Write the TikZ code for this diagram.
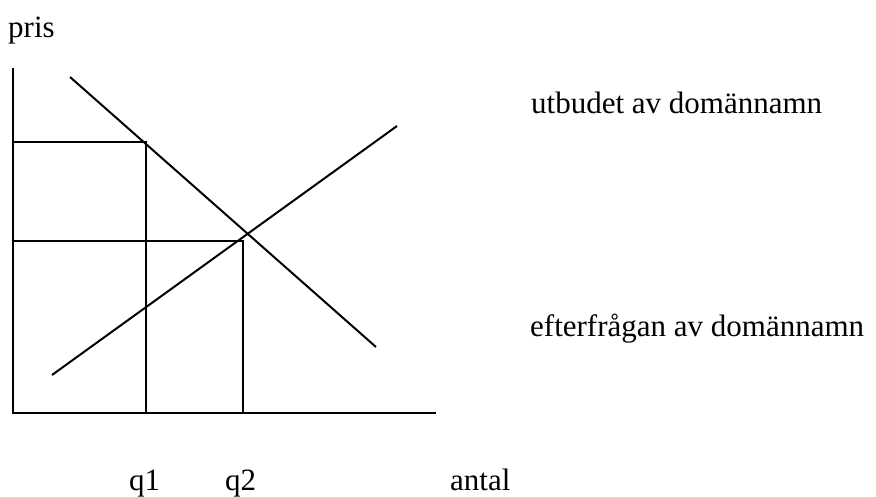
\documentclass[tikz,border=0pt]{standalone}
\usepackage{fontspec}
\setmainfont{Liberation Serif}
\begin{document}
\begin{tikzpicture}[x=1pt,y=-1pt,
  lbl/.style={anchor=base west,inner sep=0pt,font=\fontsize{31}{37}\selectfont},
  thick line/.style={line width=2pt},
  thin line/.style={line width=1.1pt}]
\useasboundingbox (0,0) rectangle (876,496);
% axes
\coordinate (ytop) at (13,68);
\coordinate (origin) at (13,413);
\coordinate (xend) at (436,413);
\draw[thick line] (ytop) -- (origin) -- (xend);
% demand and supply
\coordinate (d1) at (70,77);
\coordinate (d2) at (376,347);
\coordinate (s1) at (52,375);
\coordinate (s2) at (397,126);
\draw[thick line] (d1) -- (d2);
\draw[thick line] (s1) -- (s2);
% q1 guide lines
\coordinate (p1) at (13,142);
\coordinate (c1) at (146,142);
\coordinate (b1) at (146,413);
\draw[thick line] (p1) -- (c1) -- (b1);
% q2 guide lines
\coordinate (p2) at (13,241);
\coordinate (c2) at (243,241);
\coordinate (b2) at (243,413);
\draw[thin line] (p2) -- (c2) -- (b2);
% labels
\node[lbl] (pris) at (8,37) {pris};
\node[lbl] (utb) at (531,113) {utbudet av domännamn};
\node[lbl] (eft) at (530,336) {efterfrågan av domännamn};
\node[lbl] (q1) at (129,490) {q1};
\node[lbl] (q2) at (225,490) {q2};
\node[lbl] (antal) at (450,490) {antal};
\end{tikzpicture}
\end{document}
